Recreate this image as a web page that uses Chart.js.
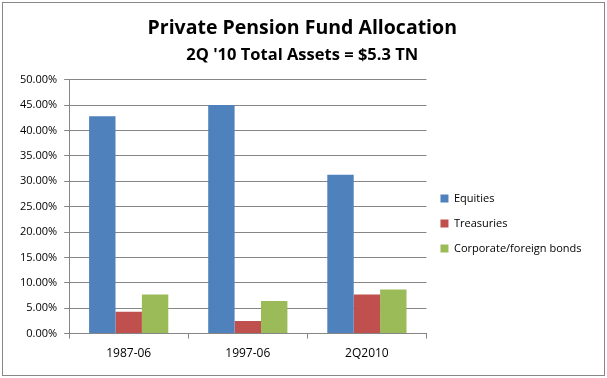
<!DOCTYPE html>
<html>
<head>
<meta charset="utf-8">
<script src="https://cdn.jsdelivr.net/npm/chart.js@4"></script>
<style>
    html, body { margin: 0; padding: 0; background: #ffffff; }
    #wrap { width: 607px; height: 378px; }
</style>
</head>
<body>
<div id="wrap"><canvas id="pensionChart"></canvas></div>
<script>
const categories = ['1987-06', '1997-06', '2Q2010'];
const equities = [42.8, 45.0, 31.3];
const treasuries = [4.3, 2.5, 7.7];
const corporateBonds = [7.7, 6.4, 8.7];
const yTicks = [0, 5, 10, 15, 20, 25, 30, 35, 40, 45, 50];

const COLORS = {
    blue: '#4F81BD',
    red: '#C0504D',
    green: '#9BBB59',
    grid: '#868686',
    text: '#000000',
    border: '#878787',
};

const FONT = '"Open Sans", "Liberation Sans", sans-serif';

// grey frame round the whole chart, like the spreadsheet export
const framePlugin = {
    id: 'frame',
    afterDraw(chart) {
        const ctx = chart.ctx;
        ctx.save();
        ctx.strokeStyle = COLORS.border;
        ctx.lineWidth = 1;
        ctx.strokeRect(2.5, 2.5, chart.width - 5, chart.height - 5);
        ctx.restore();
    },
};

function dataset(label, data, color) {
    return {
        label,
        data,
        backgroundColor: color,
        borderWidth: 0,
        barPercentage: 1,
        categoryPercentage: 0.665,
    };
}

function initChart() {
    new Chart(document.getElementById('pensionChart').getContext('2d'), {
        type: 'bar',
        data: {
            labels: categories,
            datasets: [
                dataset('Equities', equities, COLORS.blue),
                dataset('Treasuries', treasuries, COLORS.red),
                dataset('Corporate/foreign bonds', corporateBonds, COLORS.green),
            ],
        },
        options: {
            responsive: true,
            maintainAspectRatio: false,
            animation: false,
            layout: {
                padding: { left: 13, right: 15.5, top: 0, bottom: 9 },
            },
            plugins: {
                title: {
                    display: true,
                    text: 'Private Pension Fund Allocation',
                    color: COLORS.text,
                    font: { family: FONT, size: 19.5, weight: 'bold' },
                    padding: { top: 17, bottom: 5 },
                },
                subtitle: {
                    display: true,
                    text: "2Q '10 Total Assets = $5.3 TN",
                    color: COLORS.text,
                    font: { family: FONT, size: 16.5, weight: 'bold' },
                    padding: { top: 0, bottom: 14.5 },
                },
                legend: {
                    position: 'right',
                    align: 'center',
                    maxWidth: 220,
                    // empty title only pushes the items down a bit
                    title: {
                        display: true,
                        text: ' ',
                        font: { size: 1 },
                        padding: { top: 77, bottom: 0 },
                    },
                    labels: {
                        color: COLORS.text,
                        font: { family: FONT, size: 11 },
                        boxWidth: 8,
                        boxHeight: 8,
                        padding: 14,
                    },
                },
                tooltip: { enabled: false },
            },
            scales: {
                x: {
                    grid: {
                        display: true,
                        drawOnChartArea: false,
                        drawTicks: true,
                        tickLength: 5,
                        color: COLORS.grid,
                    },
                    border: { color: COLORS.grid },
                    ticks: {
                        color: COLORS.text,
                        font: { family: FONT, size: 12 },
                        padding: 8,
                    },
                },
                y: {
                    min: 0,
                    max: 50,
                    afterBuildTicks(axis) {
                        axis.ticks = yTicks.map((value) => ({ value }));
                    },
                    grid: {
                        color: COLORS.grid,
                        tickLength: 5,
                    },
                    border: { color: COLORS.grid },
                    ticks: {
                        color: COLORS.text,
                        font: { family: FONT, size: 11 },
                        padding: 7,
                        callback(value) {
                            return Number(value).toFixed(2) + '%';
                        },
                    },
                },
            },
        },
        plugins: [framePlugin],
    });
}

Promise.all([
    document.fonts.load('11px "Open Sans"'),
    document.fonts.load('bold 16px "Open Sans"'),
]).then(initChart, initChart);
</script>
</body>
</html>
